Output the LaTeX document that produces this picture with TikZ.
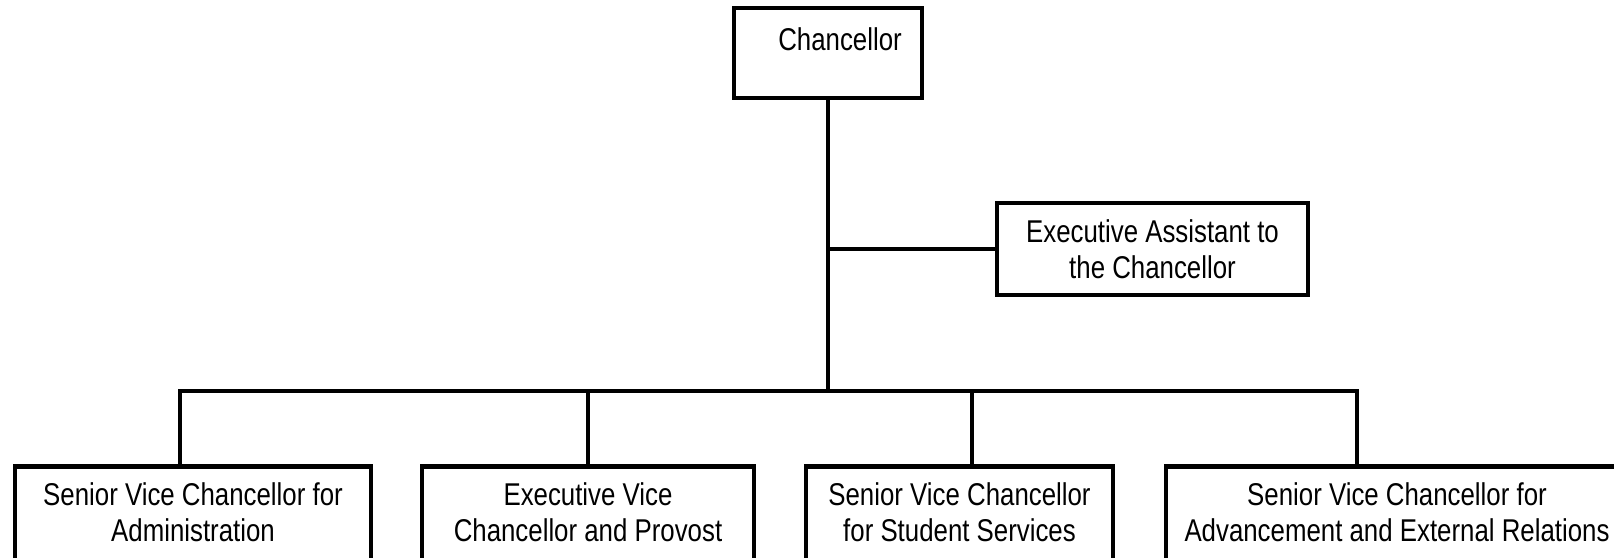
\documentclass[tikz,border=0pt]{standalone}
\usepackage{fontspec}
\setmainfont{Liberation Sans}[FakeStretch=0.82]
\usetikzlibrary{calc}

\begin{document}
\begin{tikzpicture}[x=1pt,y=-1pt,
	office/.style={draw, line width=4.5pt, inner sep=0pt, align=center, font=\fontsize{31.5pt}{36pt}\selectfont},
	vcbox/.style={office, anchor=north, inner ysep=6pt, text height=69pt, text depth=120pt},
	link/.style={line width=4pt, line cap=rect}]
	
	\useasboundingbox (0,0) rectangle (1614,557);
	\clip (0,0) rectangle (1614,557);
	
	% top of the chart
	\node[office, minimum width=188pt, minimum height=90pt, text height=42pt, text depth=48pt] (chan) at (828,53) {\hspace*{24pt}Chancellor};
	\node[office, minimum width=311pt, minimum height=92pt] (asst) at (1152.5,249) {Executive Assistant to\\the Chancellor};
	
	% vice chancellors
	\node[vcbox, minimum width=356pt] (svcadm) at (193,464) {Senior Vice Chancellor for\\Administration};
	\node[vcbox, minimum width=332pt] (evcp) at (588,464) {Executive Vice\\Chancellor and Provost};
	\node[vcbox, minimum width=307pt] (svcss) at (959.5,464) {Senior Vice Chancellor\\for Student Services};
	\node[vcbox, minimum width=462pt] (svcaer) at (1397,464) {Senior Vice Chancellor for\\Advancement and External Relations};
	
	\coordinate (hub) at (828,391);
	\coordinate (b1) at (180,391);
	\coordinate (b2) at (588,391);
	\coordinate (b3) at (972,391);
	\coordinate (b4) at (1357,391);
	
	\draw[link] (chan.south) -- (hub);
	\draw[link] (chan.south |- asst.west) -- (asst.west);
	\draw[link] (b1) -- (b4);
	\draw[link] (b1) -- (b1 |- svcadm.north);
	\draw[link] (b2) -- (b2 |- evcp.north);
	\draw[link] (b3) -- (b3 |- svcss.north);
	\draw[link] (b4) -- (b4 |- svcaer.north);
	
\end{tikzpicture}
\end{document}
